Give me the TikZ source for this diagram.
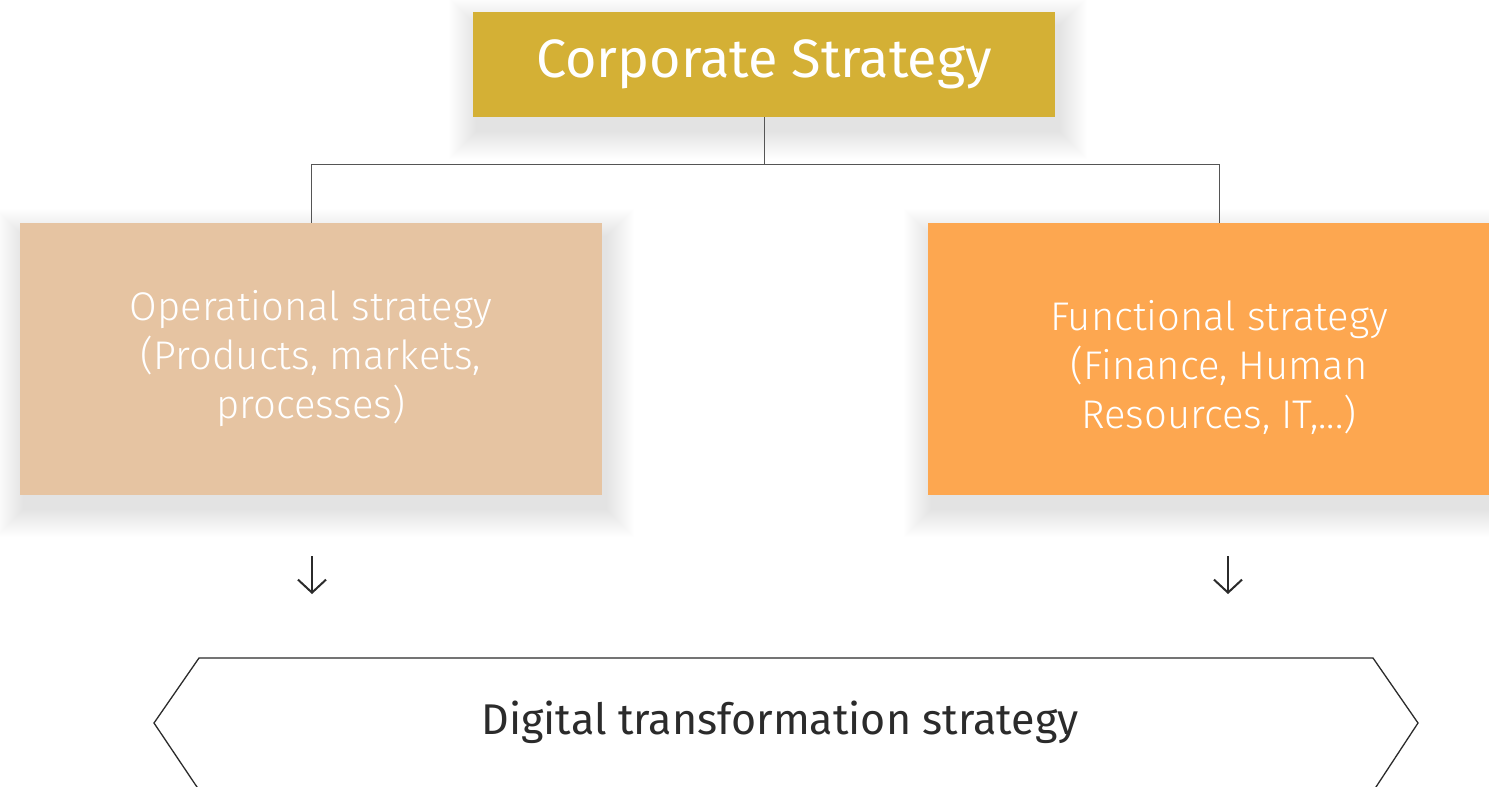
\documentclass[tikz,border=0pt]{standalone}
\usepackage{fontspec}
\setmainfont{Fira Sans}
\newfontfamily\lightfont{Fira Sans Light}
\usetikzlibrary{arrows.meta}
\definecolor{gold}{HTML}{D4B035}
\definecolor{sand}{HTML}{E6C4A2}
\definecolor{orng}{HTML}{FDA750}
\definecolor{linegray}{HTML}{555555}
\definecolor{darktext}{HTML}{2B2B2B}
\begin{document}
\begin{tikzpicture}[x=1pt,y=-1pt,
  box/.style={draw=none, inner sep=0pt, align=center, text=white},
  boxtext/.style={inner sep=0pt, align=center, text=white, font=\lightfont\fontsize{40}{49}\selectfont},
  link/.style={draw=linegray, line width=1pt},
  downarrow/.style={draw=darktext, line width=2pt, -{Straight Barb[length=13pt,width=28pt,line width=2pt]}},
]
\useasboundingbox (0,0) rectangle (1489,787);
\fill[white] (0,0) rectangle (1489,787);
% soft shadows
\foreach \i in {1,...,28} {
  \fill[black, opacity=0.0055] (473+4-\i,12+14-\i) rectangle (1055+4+\i,117+14+\i);
  \fill[black, opacity=0.0055] (20+4-\i,223+14-\i) rectangle (602+4+\i,495+14+\i);
  \fill[black, opacity=0.0055] (928+4-\i,223+14-\i) rectangle (1510+4+\i,495+14+\i);
}
\node[box, fill=gold, minimum width=582, minimum height=105,
      font=\fontsize{54}{60}\selectfont] (corp) at (764,64.5) {Corporate Strategy};
\node[box, fill=sand, minimum width=582, minimum height=272] (oper) at (311,359) {};
\node[boxtext] (opertext) at (311,359) {Operational strategy\\(Products, markets,\\processes)};
\node[box, fill=orng, minimum width=582, minimum height=272] (func) at (1219,359) {};
\node[boxtext] (functext) at (1219,367) {Functional strategy\\(Finance, Human\\Resources, IT,...)};
\coordinate (junc) at (764,164);
\draw[link] (corp.south) -- (junc);
\draw[link] (junc) -| (oper.north);
\draw[link] (junc) -| (func.north);
% arrows
\coordinate (la) at (312,556);
\coordinate (lb) at (312,594);
\coordinate (ra) at (1228,556);
\coordinate (rb) at (1228,594);
\draw[downarrow] (la) -- (lb);
\draw[downarrow] (ra) -- (rb);
% hexagon
\draw[draw=darktext, line width=1.3pt] (199,790) -- (154,723) -- (199,658) -- (1373,658) -- (1418,723) -- (1374,790);
\node[text=darktext, font=\fontsize{43}{50}\selectfont] (dig) at (780,722) {Digital transformation strategy};
\end{tikzpicture}
\end{document}
